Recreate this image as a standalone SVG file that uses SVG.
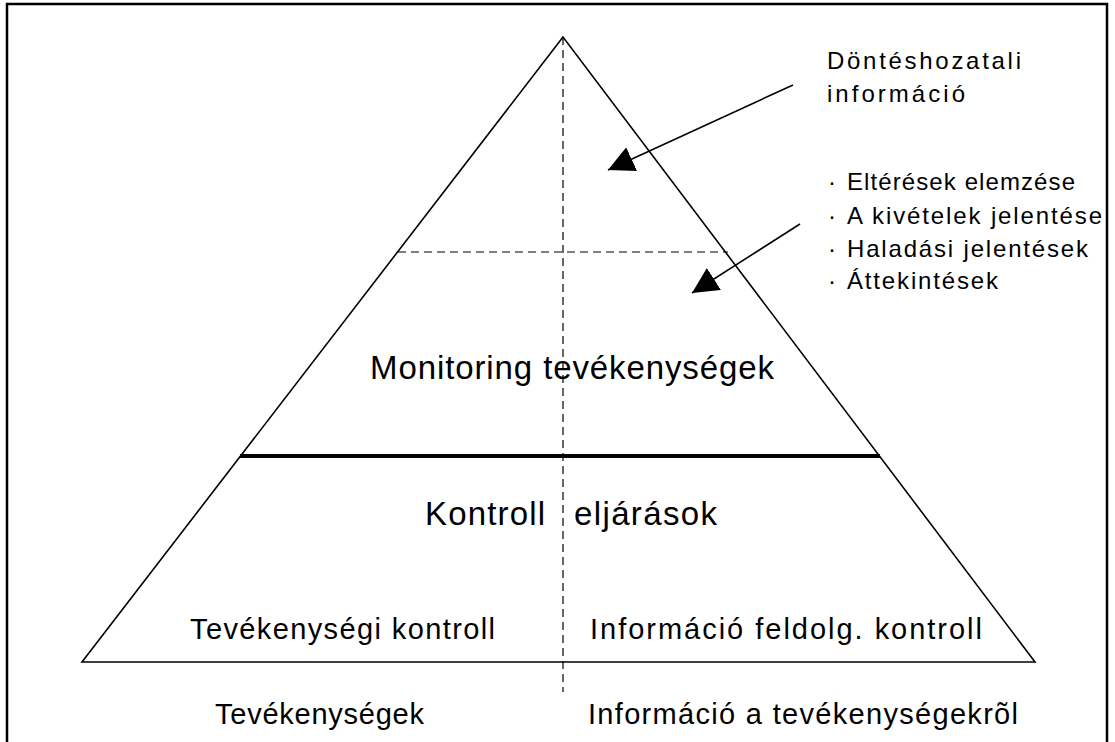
<svg xmlns="http://www.w3.org/2000/svg" width="1115" height="742" viewBox="0 0 1115 742">
<style>
.t{font-family:"Liberation Sans",Arial,sans-serif;fill:#000}
.big{font-size:33px}
.mid{font-size:29px}
.sm{font-size:24px}
.ln{stroke:#000;fill:none}
.dash{stroke:#000;stroke-width:1.2;stroke-dasharray:8 5;fill:none}
</style>
<defs>
<marker id="ah" viewBox="0 0 10 10" refX="10" refY="5" markerWidth="26" markerHeight="26" markerUnits="userSpaceOnUse" orient="auto">
<path d="M0,0 L10,5 L0,10 z" fill="#000"/>
</marker>
</defs>
<rect x="7" y="4" width="1100" height="780" fill="#fff" stroke="#000" stroke-width="2.5"/>
<g id="pyramid">
<polygon points="563,37 82,662 1035,662" class="ln" stroke-width="1.6"/>
<line x1="240" y1="456" x2="880" y2="456" stroke="#000" stroke-width="4"/>
</g>
<g id="dividers">
<line x1="563" y1="37" x2="563" y2="692" class="dash"/>
<line x1="398" y1="252" x2="728" y2="252" class="dash"/>
</g>
<g id="connectors">
<line x1="793" y1="85" x2="608" y2="170" class="ln" stroke-width="1.6" marker-end="url(#ah)"/>
<line x1="800" y1="224" x2="692" y2="293" class="ln" stroke-width="1.6" marker-end="url(#ah)"/>
</g>
<g id="decision-info">
<text class="t sm" x="827" y="69" textLength="194" lengthAdjust="spacing">Döntéshozatali</text>
<text class="t sm" x="827" y="102" textLength="138" lengthAdjust="spacing">információ</text>
</g>
<g id="reports">
<text class="t sm" x="828" y="190">·</text>
<text class="t sm" x="847" y="190" textLength="228" lengthAdjust="spacing">Eltérések elemzése</text>
<text class="t sm" x="828" y="224">·</text>
<text class="t sm" x="847" y="224" textLength="255" lengthAdjust="spacing">A kivételek jelentése</text>
<text class="t sm" x="828" y="257">·</text>
<text class="t sm" x="847" y="257" textLength="241" lengthAdjust="spacing">Haladási jelentések</text>
<text class="t sm" x="828" y="289">·</text>
<text class="t sm" x="847" y="289" textLength="151" lengthAdjust="spacing">Áttekintések</text>
</g>
<g id="monitoring">
<text class="t big" x="370" y="379" textLength="404" lengthAdjust="spacing">Monitoring tevékenységek</text>
</g>
<g id="kontroll">
<text class="t big" x="425" y="525" textLength="120" lengthAdjust="spacing">Kontroll</text>
<text class="t big" x="574" y="525" textLength="143" lengthAdjust="spacing">eljárások</text>
</g>
<g id="activity-control">
<text class="t mid" x="190" y="639" textLength="305" lengthAdjust="spacing">Tevékenységi kontroll</text>
</g>
<g id="info-control">
<text class="t mid" x="590" y="639" textLength="392" lengthAdjust="spacing">Információ feldolg. kontroll</text>
</g>
<g id="activities">
<text class="t mid" x="215" y="724" textLength="209" lengthAdjust="spacing">Tevékenységek</text>
</g>
<g id="activity-info">
<text class="t mid" x="588" y="724" textLength="430" lengthAdjust="spacing">Információ a tevékenységekrõl</text>
</g>
</svg>
